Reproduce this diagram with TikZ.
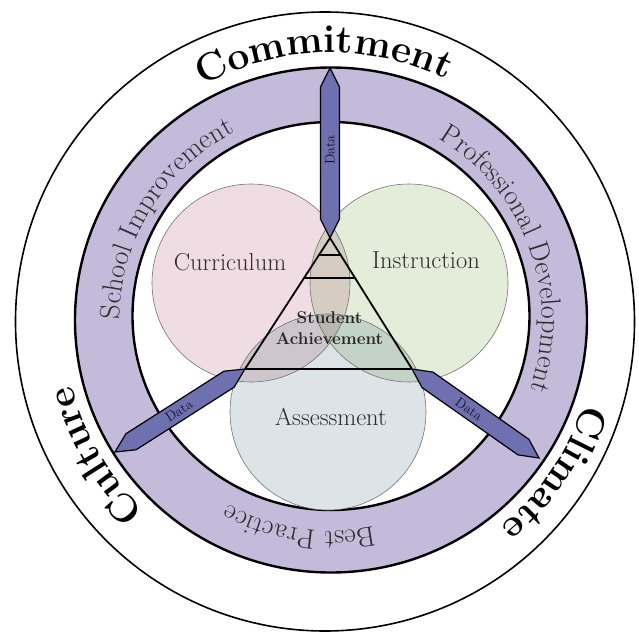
\documentclass[tikz,border=0pt]{standalone}
\usepackage{fontspec}
\usetikzlibrary{decorations.text,calc}
\definecolor{bandfill}{RGB}{196,186,218}
\definecolor{barfill}{RGB}{110,112,176}
\definecolor{pinkf}{RGB}{240,221,227}
\definecolor{greenf}{RGB}{227,237,218}
\definecolor{bluef}{RGB}{220,228,231}
\definecolor{txtgray}{RGB}{45,45,45}
\definecolor{datatxt}{RGB}{20,20,45}
\newcommand\drawbar[2]{%
  \draw[databar] (#1) -- ($(#1)!19pt!(#2)!9.5pt!90:(#2)$) -- ($(#2)!19pt!(#1)!9.5pt!-90:(#1)$) -- (#2)
    -- ($(#2)!19pt!(#1)!9.5pt!90:(#1)$) -- ($(#1)!19pt!(#2)!9.5pt!-90:(#2)$) -- cycle;}
\begin{document}
\begin{tikzpicture}[x=1pt,y=1pt,
  venn/.style={draw=black!55, line width=0.6pt},
  ringline/.style={draw=black, line width=2.4pt},
  trline/.style={draw=black, line width=1.8pt, line cap=round, line join=round},
  databar/.style={fill=barfill, draw=black, line width=1.2pt, line join=miter},
  datalabel/.style={font=\fontsize{14}{14}\selectfont, text=datatxt, inner sep=0pt},
  vennlabel/.style={font=\fontsize{24.5}{24.5}\selectfont, text=txtgray, inner sep=0pt}
]
\useasboundingbox (-331,-315) rectangle (308,320);
% outer circle
\draw[line width=1.6pt] (-6,-1.5) circle[radius=309.5];
% band
\fill[bandfill, even odd rule] (0,0) ellipse[x radius=256, y radius=252.5] (0,4) ellipse[x radius=198.5, y radius=194];
\draw[ringline] (0,0) ellipse[x radius=256, y radius=252.5];
\draw[ringline] (0,4) ellipse[x radius=198.5, y radius=194];
% venn circles
\begin{scope}[blend group=multiply]
  \fill[pinkf] (-80,37) circle[radius=99];
  \fill[greenf] (78,37) circle[radius=99];
  \fill[bluef] (-3,-92) circle[radius=98];
\end{scope}
\draw[venn] (-80,37) circle[radius=99];
\draw[venn] (78,37) circle[radius=99];
\draw[venn] (-3,-92) circle[radius=98];
% coordinates
\coordinate (T) at (-1,252);
\coordinate (A) at (-1,82);
\coordinate (BL) at (-86,-49);
\coordinate (BR) at (81,-49);
\coordinate (L) at (-216,-132);
\coordinate (R) at (208,-138);
% triangle
\draw[trline] (A) -- (BL) -- (BR) -- cycle;
\draw[trline] ($(A)!0.13!(BL)$) -- ($(A)!0.13!(BR)$);
\draw[trline] ($(A)!0.305!(BL)$) -- ($(A)!0.305!(BR)$);
% data bars
\drawbar{T}{A}
\drawbar{BL}{L}
\drawbar{BR}{R}
\node[datalabel, rotate=90] (d1) at (-1,170) {Data};
\node[datalabel, rotate=32.6] (d2) at (-152,-91) {Data};
\node[datalabel, rotate=-35] (d3) at (138,-89) {Data};
% venn labels
\node[vennlabel] (curr) at (-101,58) {Curriculum};
\node[vennlabel] (inst) at (95,60) {Instruction};
\node[vennlabel] (asse) at (0,-97) {Assessment};
\node[align=center, font=\bfseries\fontsize{17}{21}\selectfont, text=black!85, inner sep=0pt] (sa) at (-1.5,-8.5) {Student\\Achievement};
% outer words
\path[decorate, decoration={text along path, text align=center, text color=black,
  text={|\bfseries\fontsize{39}{39}\selectfont|Commitment}}]
  (151.5:267) arc[start angle=151.5, end angle=31.5, radius=267];
\path[decorate, decoration={text along path, text align=center, text color=black,
  text={|\bfseries\fontsize{39}{39}\selectfont|Climate}}]
  (25.5:267) arc[start angle=25.5, end angle=-94.5, radius=267];
\path[decorate, decoration={text along path, text align=center, text color=black,
  text={|\bfseries\fontsize{39}{39}\selectfont|Culture}}]
  (270:267) arc[start angle=270, end angle=150, radius=267];
% band words
\path[decorate, decoration={text along path, text align=center, text color=txtgray,
  text={|\fontsize{28}{28}\selectfont|School Improvement}}]
  (208.4:211) arc[start angle=208.4, end angle=88.4, radius=211];
\path[decorate, decoration={text along path, text align=center, text color=txtgray,
  text={|\fontsize{28}{28}\selectfont|Professional Development}}]
  (80:211) arc[start angle=80, end angle=-40, radius=211];
\path[decorate, decoration={text along path, text align=center, text color=txtgray,
  text={|\fontsize{28}{28}\selectfont|Best Practice}}]
  (-38.7:211) arc[start angle=-38.7, end angle=-158.7, radius=211];
\end{tikzpicture}
\end{document}
